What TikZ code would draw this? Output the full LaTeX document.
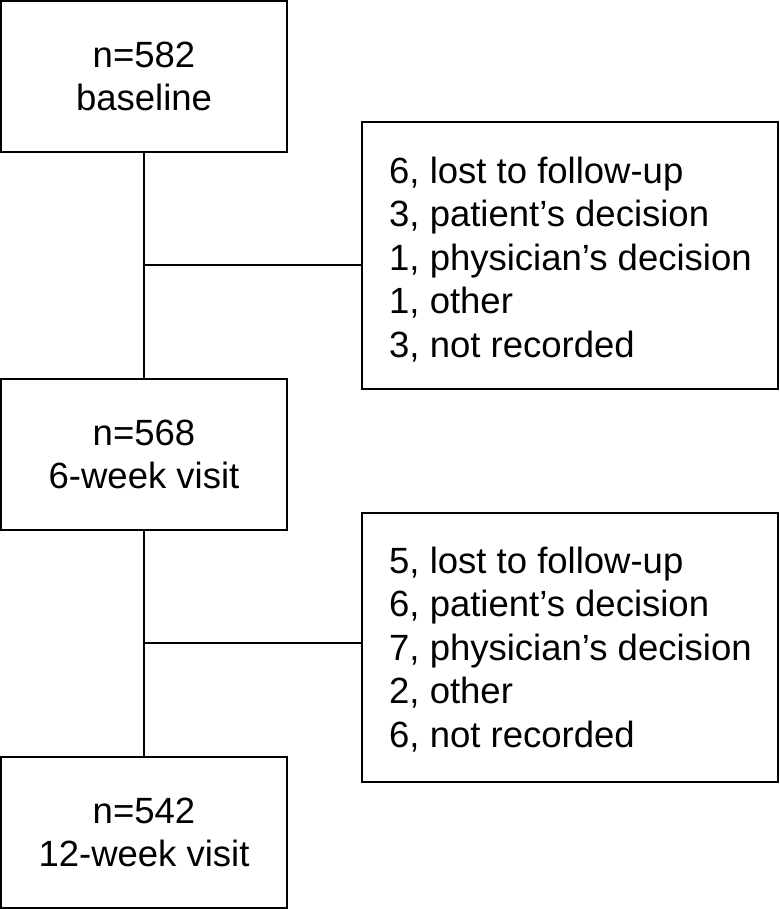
\documentclass[tikz,border=0pt]{standalone}
\usepackage{fontspec}
\setmainfont{Liberation Sans}
\begin{document}
\begin{tikzpicture}[x=1pt,y=1pt,
  lbox/.style={draw, line width=2pt, minimum width=286pt, minimum height=151pt, inner sep=0pt, align=center, font=\fontsize{36.5pt}{43.5pt}\selectfont},
  rbox/.style={draw, line width=2pt, minimum width=416pt, inner sep=0pt},
  rtext/.style={anchor=west, align=left, inner sep=0pt, font=\fontsize{36.5pt}{43.5pt}\selectfont},
  conn/.style={line width=1.5pt}]
\useasboundingbox (0,0) rectangle (779,910);
\node[lbox] (b1) at (144,{910-76.5}) {n=582\\baseline};
\node[lbox] (b2) at (144,{910-454.5}) {n=568\\6-week visit};
\node[lbox] (b3) at (144,{910-832.5}) {n=542\\12-week visit};
\node[rbox, minimum height=267pt] (r1) at (570,{910-255.5}) {};
\node[rbox, minimum height=269pt] (r2) at (570,{910-647.5}) {};
\node[rtext] (t1) at ([xshift=28pt,yshift=-4pt]r1.west) {6, lost to follow-up\\3, patient’s decision\\1, physician’s decision\\1, other\\3, not recorded};
\node[rtext] (t2) at ([xshift=28pt,yshift=-2pt]r2.west) {5, lost to follow-up\\6, patient’s decision\\7, physician’s decision\\2, other\\6, not recorded};
\coordinate (j1) at (144,{910-265});
\coordinate (j2) at (144,{910-643});
\draw[conn] (b1.south) -- (b2.north);
\draw[conn] (b2.south) -- (b3.north);
\draw[conn] (j1) -- (j1 -| r1.west);
\draw[conn] (j2) -- (j2 -| r2.west);
\end{tikzpicture}
\end{document}
